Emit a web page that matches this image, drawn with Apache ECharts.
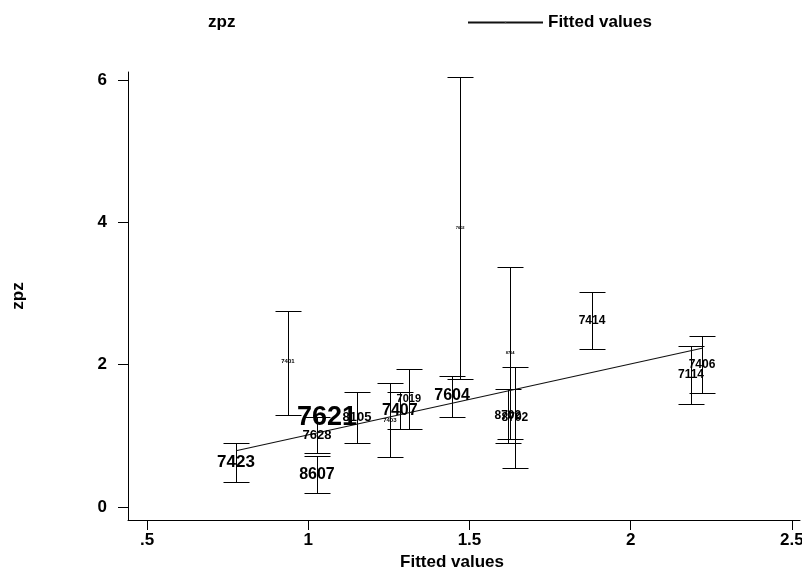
<!DOCTYPE html>
<html><head><meta charset="utf-8">
<script src="https://cdn.jsdelivr.net/npm/echarts@6/dist/echarts.min.js"></script>
<style>html,body{margin:0;padding:0;background:#fff}#c{width:802px;height:572px}</style>
</head><body><div id="c"></div>
<script>
// ---- data ----
const ids        = ['7423','7401','7621','7628','8607','8105','7403','7407','7019','7604','7602','8704','8702','8792','7414','7114','7406'];
const fitted     = [0.776, 0.937, 1.058, 1.027, 1.027, 1.151, 1.253, 1.284, 1.312, 1.446, 1.471, 1.626, 1.619, 1.641, 1.880, 2.187, 2.221];
const zpz        = [0.63, 2.04, 1.25, 1.01, 0.46, 1.26, 1.22, 1.36, 1.52, 1.56, 3.92, 2.16, 1.28, 1.26, 2.62, 1.855, 2.00];
const lower      = [0.35, 1.29, null, 0.76, 0.20, 0.90, 0.70, 1.10, 1.10, 1.27, 1.80, 0.95, 0.90, 0.55, 2.22, 1.45, 1.60];
const upper      = [0.90, 2.75, null, 1.26, 0.71, 1.62, 1.74, 1.62, 1.94, 1.84, 6.04, 3.37, 1.66, 1.97, 3.02, 2.26, 2.40];
const labelSizes = [17, 6, 27, 13, 16, 13, 6, 16, 11, 16, 4, 4, 12, 12, 12, 12, 12];
const fitLineX   = [0.776, 2.221];
const fitLineY   = [0.79, 2.23];
const xTicks      = [0.5, 1, 1.5, 2, 2.5];
const xTickLabels = ['.5', '1', '1.5', '2', '2.5'];
const yTicks      = [0, 2, 4, 6];
const yTickLabels = ['0', '2', '4', '6'];

const FONT = "'Liberation Sans', Arial, sans-serif";
const chart = echarts.init(document.getElementById('c'), null, {renderer: 'canvas'});

const barData = [];
fitted.forEach((x, i) => { if (lower[i] != null) barData.push([x, lower[i], upper[i]]); });
const labelData = fitted.map((x, i) => ({
  value: [x, zpz[i]], name: ids[i], label: {fontSize: labelSizes[i]}
}));
const lineData = fitLineX.map((x, i) => [x, fitLineY[i]]);

function pick(list, labels, v) {
  for (let i = 0; i < list.length; i++) if (Math.abs(list[i] - v) < 1e-6) return labels[i];
  return '';
}
const txt = {color: '#000', fontFamily: FONT, fontWeight: 'bold', fontSize: 17};

chart.setOption({
  backgroundColor: '#fff',
  animation: false,
  grid: {left: 128, right: 2, top: 72, bottom: 52, containLabel: false, outerBoundsMode: 'none'},
  legend: [
    {data: [{name: 'zpz', icon: 'rect', itemStyle: {color: 'rgba(0,0,0,0)', borderWidth: 0}}],
     left: 123, top: 9, itemWidth: 75, itemHeight: 2, selectedMode: false, textStyle: txt},
    {data: [{name: 'Fitted values'}],
     left: 462, top: 9, itemWidth: 75, itemHeight: 2, itemGap: 5, selectedMode: false, textStyle: txt}
  ],
  xAxis: {
    type: 'value', min: 0.441, max: 2.525,
    axisLine: {show: true, onZero: false, lineStyle: {color: '#000', width: 1}},
    axisTick: {show: true, length: 10, customValues: xTicks, lineStyle: {color: '#000'}},
    axisLabel: {customValues: xTicks, formatter: v => pick(xTicks, xTickLabels, v), margin: 12, ...txt},
    splitLine: {show: false},
    name: 'Fitted values', nameLocation: 'middle', nameGap: 34,
    nameTextStyle: {...txt, padding: [0, 24, 0, 0]}
  },
  yAxis: {
    type: 'value', min: -0.183, max: 6.11,
    axisLine: {show: true, onZero: false, lineStyle: {color: '#000', width: 1}},
    axisTick: {show: true, length: 10, customValues: yTicks, lineStyle: {color: '#000'}},
    axisLabel: {customValues: yTicks, formatter: v => pick(yTicks, yTickLabels, v), margin: 21, ...txt},
    splitLine: {show: false},
    name: 'zpz', nameLocation: 'middle', nameGap: 101, nameRotate: 90,
    nameTextStyle: txt
  },
  series: [
    {
      type: 'custom', name: 'bars', data: barData, silent: true,
      renderItem: function (params, api) {
        const x = api.value(0), lo = api.value(1), hi = api.value(2);
        const pLo = api.coord([x, lo]), pHi = api.coord([x, hi]);
        const cx = Math.round(pLo[0]) + 0.5;
        const yl = Math.round(pLo[1]) + 0.5, yh = Math.round(pHi[1]) + 0.5;
        const hw = 13;
        const st = {stroke: '#000', lineWidth: 1};
        return {type: 'group', children: [
          {type: 'line', shape: {x1: cx, y1: yl, x2: cx, y2: yh}, style: st},
          {type: 'line', shape: {x1: cx - hw, y1: yl, x2: cx + hw, y2: yl}, style: st},
          {type: 'line', shape: {x1: cx - hw, y1: yh, x2: cx + hw, y2: yh}, style: st}
        ]};
      }
    },
    {
      type: 'line', name: 'Fitted values', data: lineData, symbol: 'none',
      lineStyle: {color: '#111', width: 1.2}, itemStyle: {color: '#444'}, z: 3
    },
    {
      type: 'scatter', name: 'zpz', data: labelData, symbol: 'circle', symbolSize: 1,
      itemStyle: {color: 'rgba(0,0,0,0)', opacity: 1}, z: 4,
      label: {show: true, position: 'inside', formatter: '{b}', offset: [-4, 0],
              color: '#000', opacity: 1, textBorderWidth: 0, fontFamily: FONT, fontWeight: 'bold'},
      labelLayout: {hideOverlap: false}
    }
  ]
});
</script></body></html>
